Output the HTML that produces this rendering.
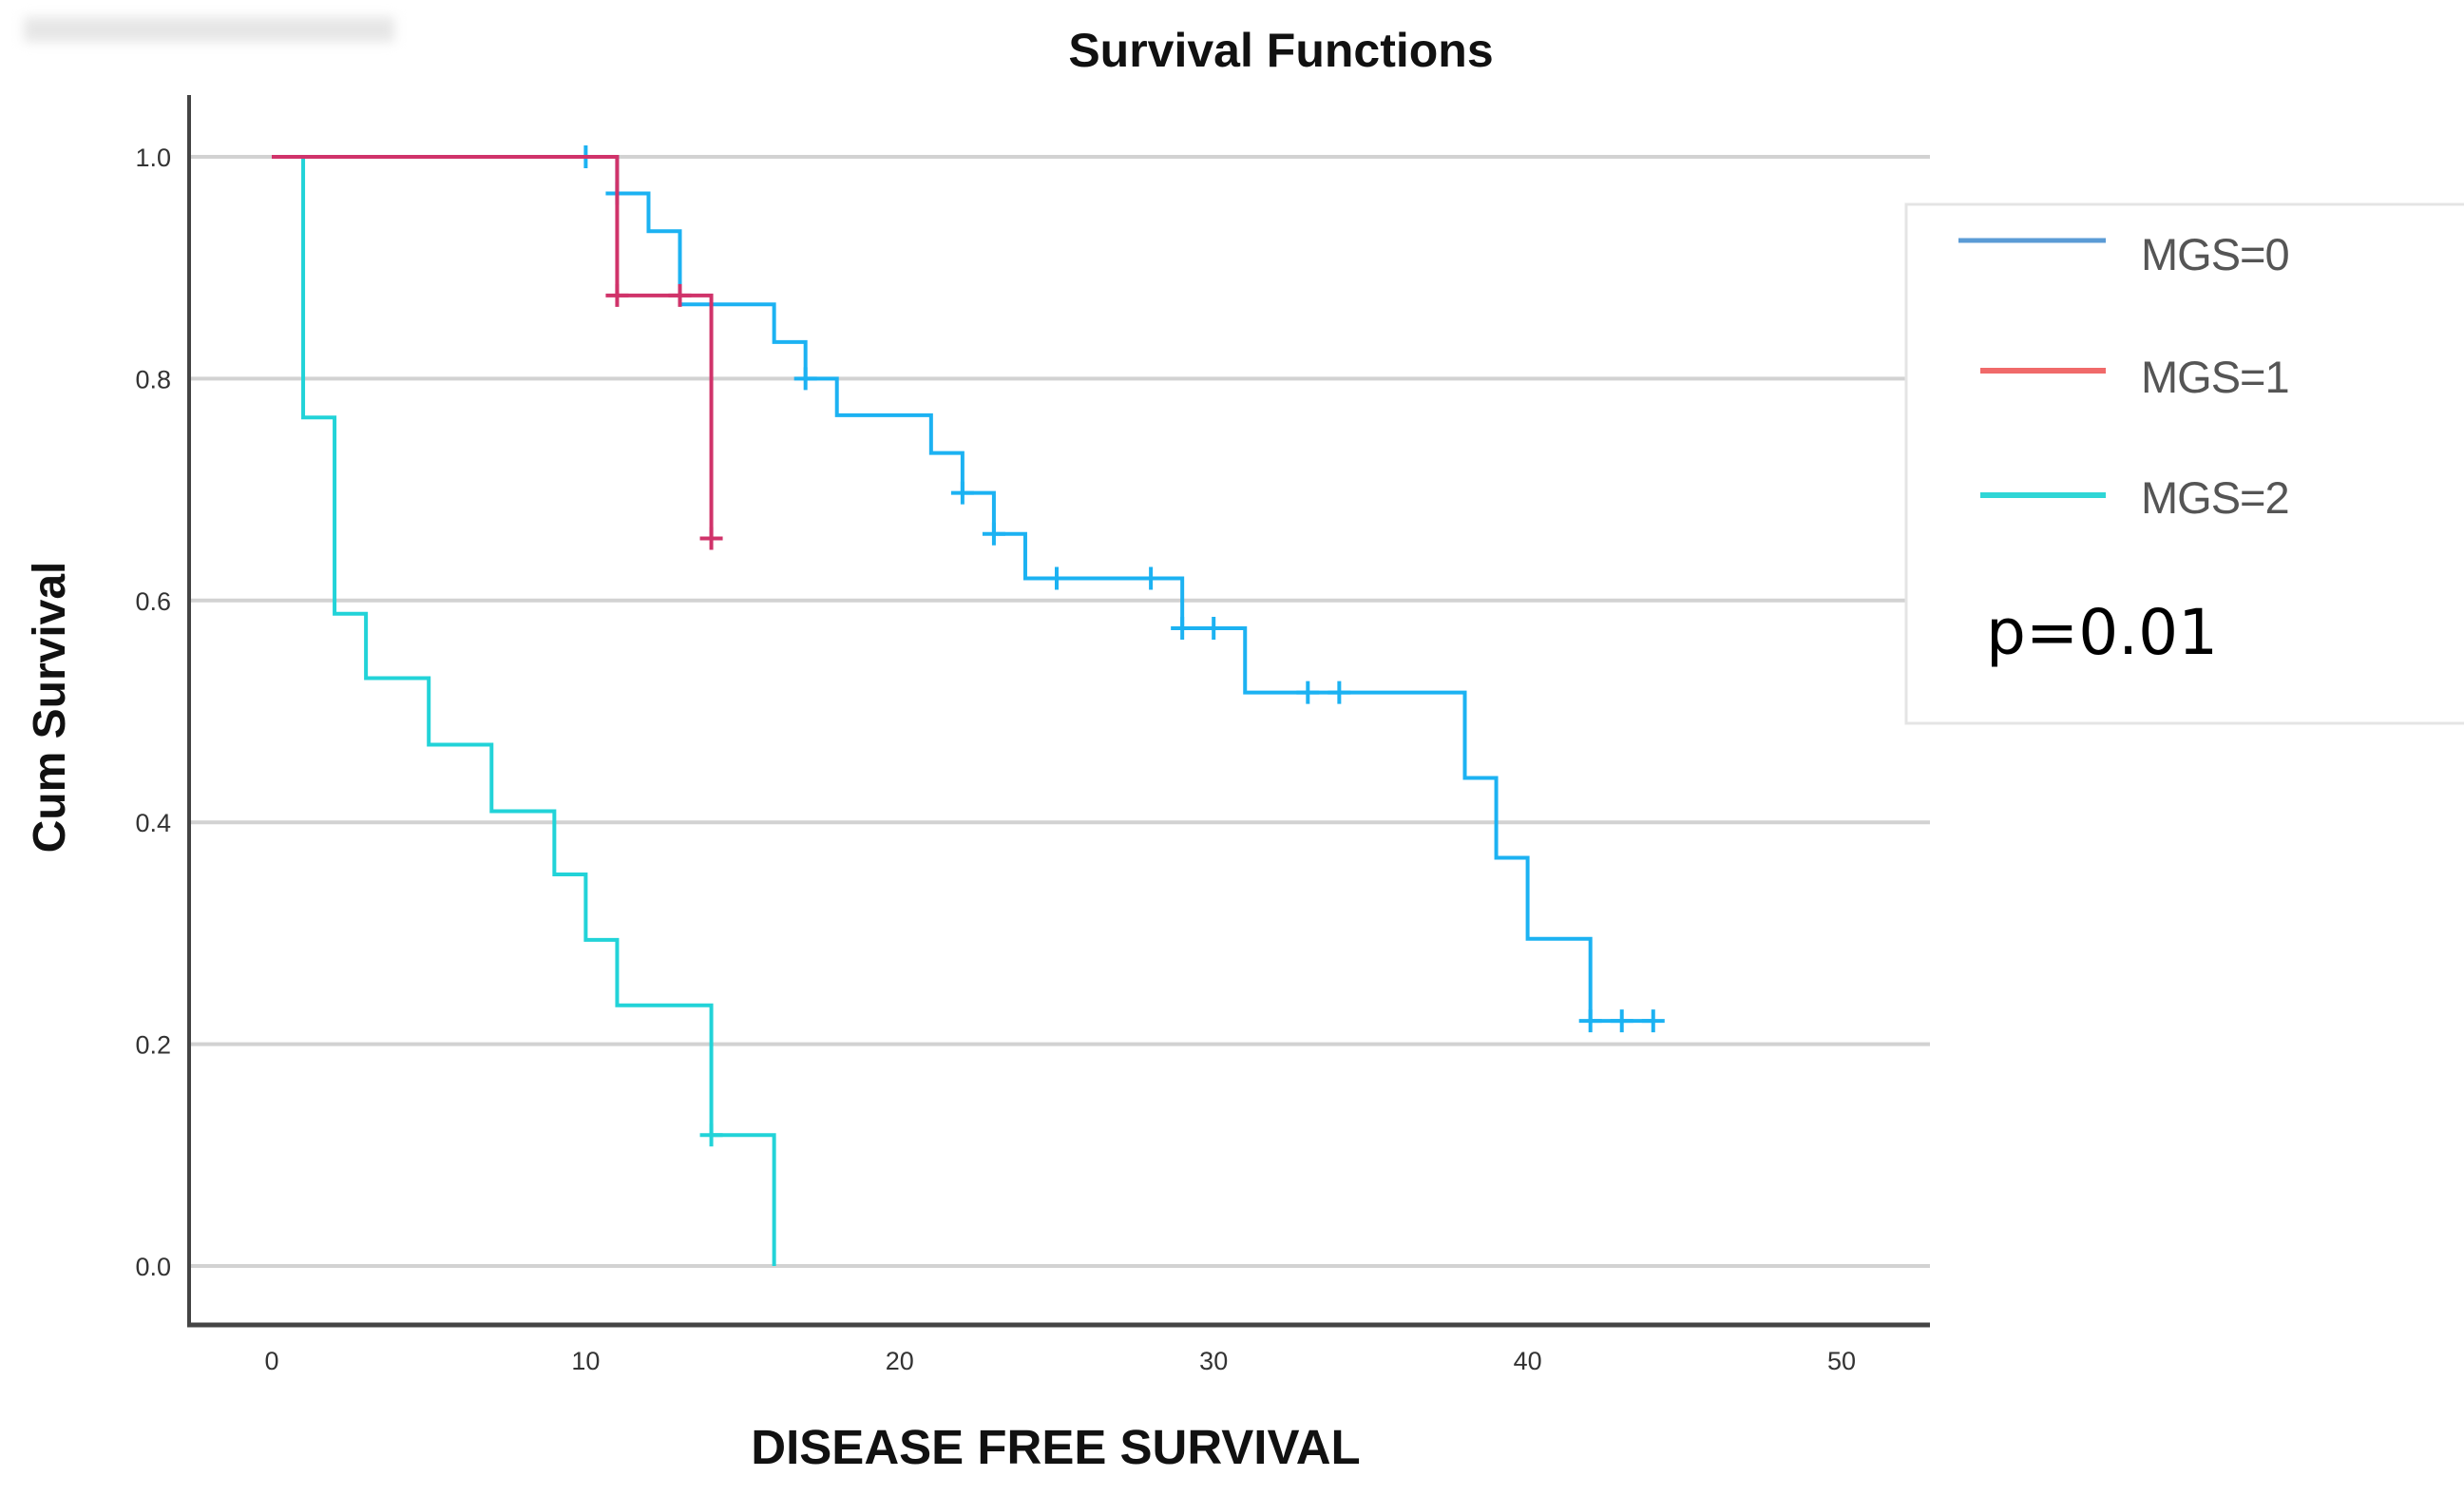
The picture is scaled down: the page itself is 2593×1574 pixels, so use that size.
<!DOCTYPE html>
<html><head><meta charset="utf-8"><style>
html,body{margin:0;padding:0;background:#fff;}
body{width:2593px;height:1574px;overflow:hidden;position:relative;}
svg{position:absolute;left:0;top:0;}
.cond{font-family:"Liberation Sans Narrow","Liberation Sans",sans-serif;}
</style></head><body>
<div style="position:absolute;left:25px;top:18px;width:390px;height:26px;background:#e6e6e6;filter:blur(6px);"></div>
<svg id="chart" width="2593" height="1574" xmlns="http://www.w3.org/2000/svg">
<text x="1348" y="70" text-anchor="middle" class="cond" font-weight="bold" font-size="50" fill="#111">Survival Functions</text>
<g id="grid"></g>
<g id="yticks"></g>
<g id="xticks"></g>
<line x1="199" y1="100" x2="199" y2="1395" stroke="#444" stroke-width="4"/>
<line x1="197" y1="1394" x2="2031" y2="1394" stroke="#444" stroke-width="5"/>
<g id="series"></g>
<text transform="translate(68,744) rotate(-90)" text-anchor="middle" font-family="Liberation Sans, sans-serif" font-weight="bold" font-size="48" fill="#111">Cum Survival</text>
<text x="1111" y="1540" text-anchor="middle" class="cond" font-weight="bold" font-size="51" fill="#111">DISEASE FREE SURVIVAL</text>
<g>
<path d="M2593 215 H2006 V761 H2593" fill="#fff" stroke="#e4e4e4" stroke-width="3"/>
<line x1="2061" y1="253" x2="2216" y2="253" stroke="#5b9bd5" stroke-width="5"/>
<text x="2253" y="284" font-family="Liberation Sans, sans-serif" font-size="47" fill="#555" style="letter-spacing:-1px">MGS=0</text>
<line x1="2084" y1="390" x2="2216" y2="390" stroke="#f06a6a" stroke-width="6"/>
<text x="2253" y="413" font-family="Liberation Sans, sans-serif" font-size="47" fill="#555" style="letter-spacing:-1px">MGS=1</text>
<line x1="2084" y1="521" x2="2216" y2="521" stroke="#2fd6d6" stroke-width="6"/>
<text x="2253" y="540" font-family="Liberation Sans, sans-serif" font-size="47" fill="#555" style="letter-spacing:-1px">MGS=2</text>
<text x="2090" y="688" font-family="DejaVu Sans, Liberation Sans, sans-serif" font-size="66" fill="#000">p=0.01</text>
</g>
</svg>
<script>
const yTicks=[0.0,0.2,0.4,0.6,0.8,1.0];
const yTickLabels=["0.0","0.2","0.4","0.6","0.8","1.0"];
const xTicks=[0,10,20,30,40,50];
const xTickLabels=["0","10","20","30","40","50"];
const mgs0Times=[0,11,12,13,16,17,18,21,22,23,24,29,31,38,39,40,42,44];
const mgs0Surv=[1.0,0.967,0.933,0.867,0.833,0.80,0.767,0.733,0.697,0.66,0.62,0.575,0.517,0.44,0.368,0.295,0.221,0.221];
const mgs0CensorT=[10,11,17,22,23,25,28,29,30,33,34,42,43,44];
const mgs0CensorS=[1.0,0.967,0.80,0.697,0.66,0.62,0.62,0.575,0.575,0.517,0.517,0.221,0.221,0.221];
const mgs1Times=[0,11,14];
const mgs1Surv=[1.0,0.875,0.656];
const mgs1CensorT=[11,13,14];
const mgs1CensorS=[0.875,0.875,0.656];
const mgs2Times=[0,1,2,3,5,7,9,10,11,14,16];
const mgs2Surv=[1.0,0.765,0.588,0.53,0.47,0.41,0.353,0.294,0.235,0.118,0.0];
const mgs2CensorT=[14];
const mgs2CensorS=[0.118];

const X=t=>286+t*33.04;
const Y=s=>1332-s*1167;
const NS='http://www.w3.org/2000/svg';
function mk(tag,attrs,parent){const e=document.createElementNS(NS,tag);for(const k in attrs)e.setAttribute(k,attrs[k]);parent.appendChild(e);return e;}
const grid=document.getElementById('grid'),yt=document.getElementById('yticks'),xt=document.getElementById('xticks'),ser=document.getElementById('series');
yTicks.forEach((v,i)=>{
 const l=mk('line',{x1:201,x2:2031,y1:Y(v),y2:Y(v),stroke:'#d2d2d2','stroke-width':4},grid);
 
 
 const t=mk('text',{x:180,y:Y(v)+10,'text-anchor':'end','font-family':'Liberation Sans, sans-serif','font-size':27,fill:'#333'},yt);
 t.textContent=yTickLabels[i];
 
 
});
xTicks.forEach((v,i)=>{
 const t=mk('text',{x:X(v),y:1441,'text-anchor':'middle','font-family':'Liberation Sans, sans-serif','font-size':27,fill:'#333'},xt);
 t.textContent=xTickLabels[i];
 
 
});
function draw(times,surv,ct,cs,color,name){
 let d='M'+X(times[0])+' '+Y(surv[0]);
 for(let i=1;i<times.length;i++){d+=' H'+X(times[i])+' V'+Y(surv[i]);}
 const p=mk('path',{d:d,fill:'none',stroke:color,'stroke-width':4,'stroke-linejoin':'miter'},ser);
 
 
 ct.forEach((t,i)=>{
  const c=mk('path',{d:'M'+(X(t)-12)+' '+Y(cs[i])+' h24 M'+X(t)+' '+(Y(cs[i])-12)+' v24',stroke:color,'stroke-width':4},ser);
  
  
 });
}
draw(mgs2Times,mgs2Surv,mgs2CensorT,mgs2CensorS,'#22d3d8','mgs2');
draw(mgs0Times,mgs0Surv,mgs0CensorT,mgs0CensorS,'#1cb2f2','mgs0');
draw(mgs1Times,mgs1Surv,mgs1CensorT,mgs1CensorS,'#d0336a','mgs1');
</script>
</body></html>
